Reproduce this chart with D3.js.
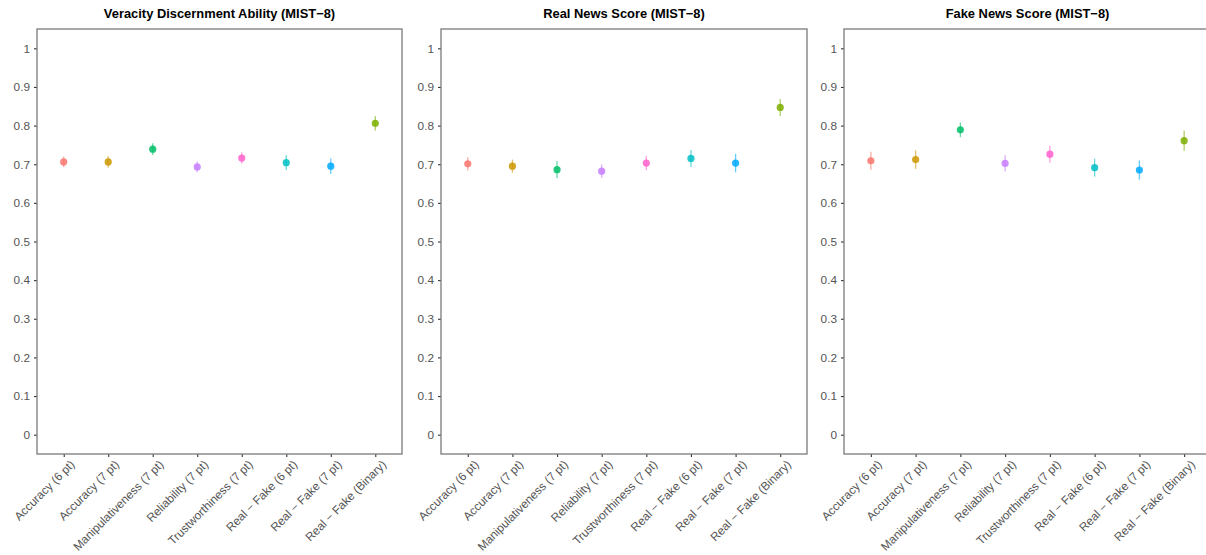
<!DOCTYPE html>
<html>
<head>
<meta charset="utf-8">
<script src="https://cdn.jsdelivr.net/npm/d3@7"></script>
<style>
  html, body { margin: 0; padding: 0; background: #fff; }
  svg { display: block; font-family: "Liberation Sans", Arial, sans-serif; }
</style>
</head>
<body>
<svg id="chart" width="1206" height="555"></svg>
<script>
// Rating formats compared in each panel
const categories = [
  "Accuracy (6 pt)", "Accuracy (7 pt)", "Manipulativeness (7 pt)", "Reliability (7 pt)",
  "Trustworthiness (7 pt)", "Real \u2212 Fake (6 pt)", "Real \u2212 Fake (7 pt)", "Real \u2212 Fake (Binary)"
];
const panelTitles = [
  "Veracity Discernment Ability (MIST\u22128)",
  "Real News Score (MIST\u22128)",
  "Fake News Score (MIST\u22128)"
];
// Point estimates per panel
const discernmentMean = [0.706, 0.706, 0.739, 0.693, 0.716, 0.704, 0.695, 0.806];
const realMean        = [0.701, 0.695, 0.686, 0.682, 0.703, 0.715, 0.703, 0.847];
const fakeMean        = [0.709, 0.712, 0.789, 0.702, 0.726, 0.691, 0.685, 0.761];
// Half-widths of the interval bars
const discernmentErr = [0.014, 0.015, 0.015, 0.014, 0.015, 0.019, 0.020, 0.019];
const realErr        = [0.017, 0.017, 0.022, 0.017, 0.018, 0.022, 0.024, 0.022];
const fakeErr        = [0.023, 0.024, 0.019, 0.021, 0.022, 0.023, 0.025, 0.026];
const yTicks = [0, 0.1, 0.2, 0.3, 0.4, 0.5, 0.6, 0.7, 0.8, 0.9, 1];
const palette = ["#F8766D", "#CD9600", "#00BE67", "#C77CFF", "#FF61CC", "#00BFC4", "#00A9FF", "#7CAE00"];

const panels = [
  { title: panelTitles[0], mean: discernmentMean, err: discernmentErr, left: 37,  right: 402 },
  { title: panelTitles[1], mean: realMean,        err: realErr,        left: 441, right: 807 },
  { title: panelTitles[2], mean: fakeMean,        err: fakeErr,        left: 844, right: 1211 }
];
const plotTop = 29, plotBottom = 454;

const svg = d3.select("#chart");
const y = d3.scaleLinear().domain([-0.05, 1.05]).range([plotBottom, plotTop]);
const color = d3.scaleOrdinal().domain(categories).range(palette);

panels.forEach(p => {
  const x = d3.scalePoint().domain(categories).range([p.left, p.right]).padding(0.6);
  const g = svg.append("g");

  // title
  g.append("text")
    .attr("x", (p.left + p.right) / 2)
    .attr("y", 18)
    .attr("text-anchor", "middle")
    .attr("font-weight", "bold")
    .attr("font-size", 12.9)
    .attr("fill", "#000")
    .text(p.title);

  // y axis
  const yAxis = g.append("g")
    .attr("transform", `translate(${p.left},0)`)
    .call(d3.axisLeft(y).tickValues(yTicks).tickSize(3).tickPadding(4)
      .tickFormat(d => d3.format("~g")(d)));
  yAxis.select(".domain").remove();
  yAxis.selectAll(".tick line").attr("stroke", "#333").attr("stroke-width", 1.1);
  yAxis.selectAll(".tick text").attr("fill", "#555").attr("font-size", 11.8)
    .style("font-family", "Liberation Sans, Arial, sans-serif");

  // x axis
  const xAxis = g.append("g")
    .attr("transform", `translate(0,${plotBottom})`)
    .call(d3.axisBottom(x).tickSize(3).tickPadding(3));
  xAxis.select(".domain").remove();
  xAxis.selectAll(".tick line").attr("stroke", "#333").attr("stroke-width", 1.1);
  xAxis.selectAll(".tick text")
    .attr("fill", "#555").attr("font-size", 11.8)
    .style("font-family", "Liberation Sans, Arial, sans-serif")
    .attr("text-anchor", "end")
    .attr("dy", "0.35em")
    .attr("transform", "translate(4,4) rotate(-45)");

  // panel border
  g.append("rect")
    .attr("x", p.left).attr("y", plotTop)
    .attr("width", p.right - p.left).attr("height", plotBottom - plotTop)
    .attr("fill", "none").attr("stroke", "#7a7a7a").attr("stroke-width", 1.3);

  // interval bars
  g.selectAll("line.err").data(categories).join("line")
    .attr("class", "err")
    .attr("x1", d => x(d)).attr("x2", d => x(d))
    .attr("y1", (d, i) => y(p.mean[i] - p.err[i]))
    .attr("y2", (d, i) => y(p.mean[i] + p.err[i]))
    .attr("stroke", d => color(d))
    .attr("stroke-width", 1.3)
    .attr("stroke-opacity", 0.6);

  // point estimates
  g.selectAll("circle.pt").data(categories).join("circle")
    .attr("class", "pt")
    .attr("cx", d => x(d))
    .attr("cy", (d, i) => y(p.mean[i]))
    .attr("r", 3.6)
    .attr("fill", d => color(d))
    .attr("fill-opacity", 0.85);
});
</script>
</body>
</html>
